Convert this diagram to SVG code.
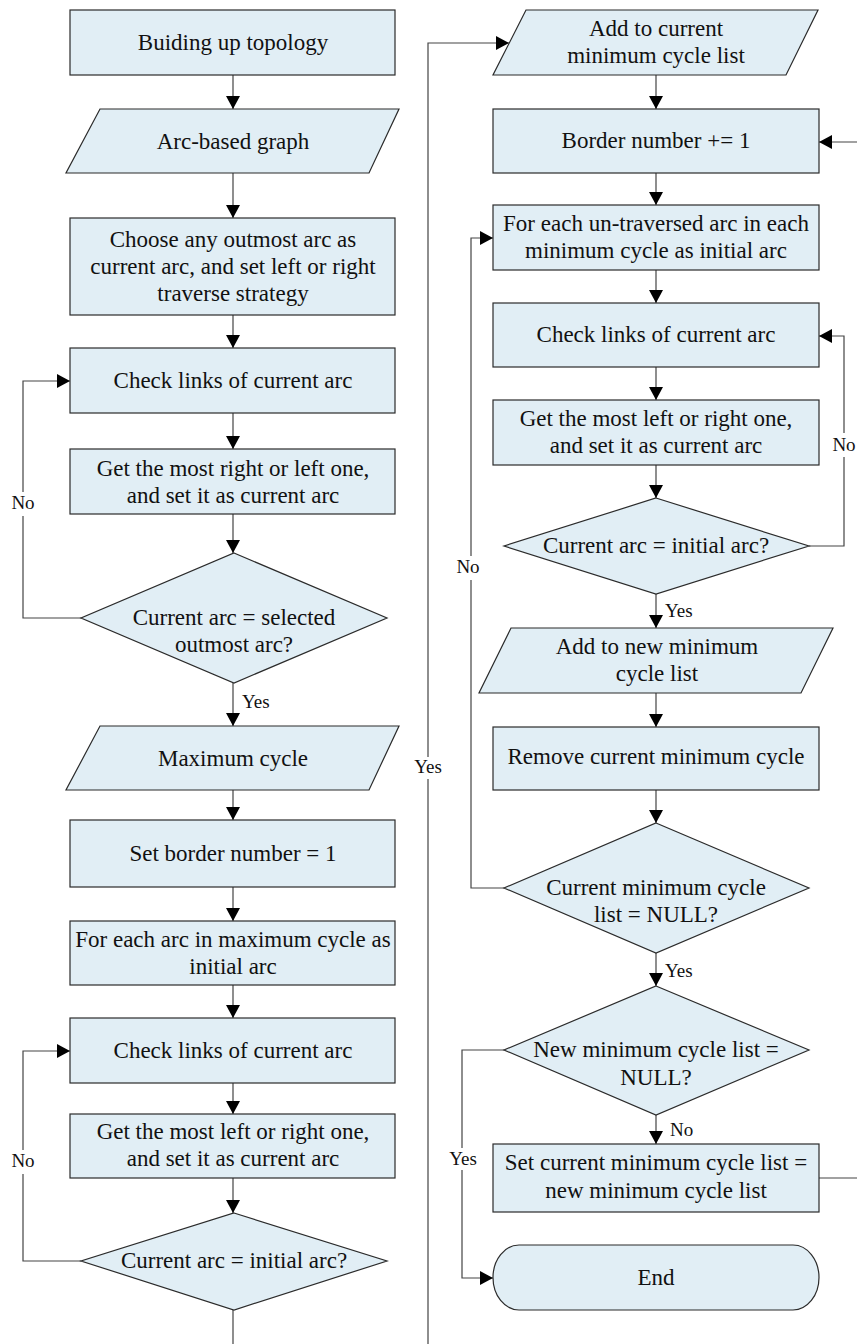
<svg xmlns="http://www.w3.org/2000/svg" width="857" height="1344" viewBox="0 0 857 1344">
<defs>
<style>
.n{fill:#E1EEF5;stroke:#2b2b2b;stroke-width:1.2}
.t{font-size:23px;fill:#111;text-anchor:middle}
.l{font-size:19px;fill:#111}
.c{fill:none;stroke:#444;stroke-width:1.2}
.a{marker-end:url(#ah)}
.bg{fill:#fff}
</style>
<marker id="ah" markerUnits="userSpaceOnUse" markerWidth="13" markerHeight="14" refX="13" refY="7" orient="auto">
<path d="M0,0 L13,7 L0,14 Z" fill="#000"/>
</marker>
</defs>
<rect width="857" height="1344" fill="#fff"/>
<g font-family="Liberation Serif, DejaVu Serif, serif">
<g id="connectors">
<line class="c a" x1="233" y1="75" x2="233" y2="109"/>
<line class="c a" x1="233" y1="173" x2="233" y2="218"/>
<line class="c a" x1="233" y1="315" x2="233" y2="348"/>
<line class="c a" x1="233" y1="413" x2="233" y2="449"/>
<line class="c a" x1="233" y1="514" x2="233" y2="553"/>
<line class="c a" x1="233" y1="683" x2="233" y2="726"/>
<line class="c a" x1="233" y1="790" x2="233" y2="820"/>
<line class="c a" x1="233" y1="887" x2="233" y2="921"/>
<line class="c a" x1="233" y1="985" x2="233" y2="1018"/>
<line class="c a" x1="233" y1="1083" x2="233" y2="1114"/>
<line class="c a" x1="233" y1="1178" x2="233" y2="1213"/>
<line class="c" x1="233" y1="1310" x2="233" y2="1344"/>
<polyline class="c a" points="81,618 23,618 23,381 70,381"/>
<polyline class="c a" points="81,1261 23,1261 23,1051 70,1051"/>
<polyline class="c a" points="428,1344 428,43 509,43"/>
<line class="c a" x1="656" y1="75" x2="656" y2="109"/>
<line class="c a" x1="656" y1="173" x2="656" y2="205"/>
<line class="c a" x1="656" y1="270" x2="656" y2="303"/>
<line class="c a" x1="656" y1="367" x2="656" y2="400"/>
<line class="c a" x1="656" y1="465" x2="656" y2="498"/>
<line class="c a" x1="656" y1="594" x2="656" y2="628"/>
<line class="c a" x1="656" y1="693" x2="656" y2="727"/>
<line class="c a" x1="656" y1="790" x2="656" y2="823"/>
<line class="c a" x1="656" y1="953" x2="656" y2="986"/>
<line class="c a" x1="656" y1="1115" x2="656" y2="1144"/>
<line class="c a" x1="857" y1="142" x2="819" y2="142"/>
<line class="c" x1="819" y1="1178" x2="857" y2="1178"/>
<polyline class="c a" points="809,546 844,546 844,336 819,336"/>
<polyline class="c a" points="504,888 471,888 471,238 493,238"/>
<polyline class="c a" points="504,1050 462,1050 462,1278 493,1278"/>
<rect class="bg" x="10" y="492" width="26" height="24"/>
<text class="l" x="23" y="509" text-anchor="middle">No</text>
<rect class="bg" x="10" y="1150" width="26" height="24"/>
<text class="l" x="23" y="1167" text-anchor="middle">No</text>
<text class="l" x="242" y="708">Yes</text>
<rect class="bg" x="413" y="757" width="31" height="22"/>
<text class="l" x="428" y="773" text-anchor="middle">Yes</text>
<rect class="bg" x="831" y="433" width="26" height="24"/>
<text class="l" x="844" y="451" text-anchor="middle">No</text>
<rect class="bg" x="456" y="556" width="26" height="24"/>
<text class="l" x="468" y="573" text-anchor="middle">No</text>
<text class="l" x="665" y="617">Yes</text>
<text class="l" x="665" y="977">Yes</text>
<text class="l" x="670" y="1136">No</text>
<rect class="bg" x="447" y="1148" width="32" height="22"/>
<text class="l" x="463" y="1165" text-anchor="middle">Yes</text>
</g>

<g id="n1"><rect class="n" x="70" y="10" width="325" height="65"/><text class="t" x="233" y="50">Buiding up topology</text></g>
<g id="n2"><polygon class="n" points="100,109 399,109 369,173 66,173"/><text class="t" x="233" y="149">Arc-based graph</text></g>
<g id="n3"><rect class="n" x="70" y="218" width="325" height="97"/><text class="t" x="233" y="247">Choose any outmost arc as</text><text class="t" x="233" y="274">current arc, and set left or right</text><text class="t" x="233" y="301">traverse strategy</text></g>
<g id="n4"><rect class="n" x="70" y="348" width="325" height="65"/><text class="t" x="233" y="388">Check links of current arc</text></g>
<g id="n5"><rect class="n" x="70" y="449" width="325" height="65"/><text class="t" x="233" y="476">Get the most right or left one,</text><text class="t" x="233" y="503">and set it as current arc</text></g>
<g id="n6"><polygon class="n" points="234,553 387,618 234,683 81,618"/><text class="t" x="234" y="625">Current arc = selected</text><text class="t" x="234" y="652">outmost arc?</text></g>
<g id="n7"><polygon class="n" points="100,726 399,726 369,790 66,790"/><text class="t" x="233" y="766">Maximum cycle</text></g>
<g id="n8"><rect class="n" x="70" y="820" width="325" height="67"/><text class="t" x="233" y="861">Set border number = 1</text></g>
<g id="n9"><rect class="n" x="70" y="921" width="325" height="64"/><text class="t" x="233" y="947">For each arc in maximum cycle as</text><text class="t" x="233" y="974">initial arc</text></g>
<g id="n10"><rect class="n" x="70" y="1018" width="325" height="65"/><text class="t" x="233" y="1058">Check links of current arc</text></g>
<g id="n11"><rect class="n" x="70" y="1114" width="325" height="64"/><text class="t" x="233" y="1139">Get the most left or right one,</text><text class="t" x="233" y="1166">and set it as current arc</text></g>
<g id="n12"><polygon class="n" points="234,1213 387,1261 234,1310 81,1261"/><text class="t" x="234" y="1268">Current arc = initial arc?</text></g>

<g id="r1"><polygon class="n" points="526,10 818,10 786,75 493,75"/><text class="t" x="656" y="36">Add to current</text><text class="t" x="656" y="63">minimum cycle list</text></g>
<g id="r2"><rect class="n" x="493" y="109" width="326" height="64"/><text class="t" x="656" y="148">Border number += 1</text></g>
<g id="r3"><rect class="n" x="493" y="205" width="326" height="65"/><text class="t" x="656" y="231">For each un-traversed arc in each</text><text class="t" x="656" y="258">minimum cycle as initial arc</text></g>
<g id="r4"><rect class="n" x="493" y="303" width="326" height="64"/><text class="t" x="656" y="342">Check links of current arc</text></g>
<g id="r5"><rect class="n" x="493" y="400" width="326" height="65"/><text class="t" x="656" y="426">Get the most left or right one,</text><text class="t" x="656" y="453">and set it as current arc</text></g>
<g id="r6"><polygon class="n" points="656,498 809,546 656,594 504,546"/><text class="t" x="656" y="553">Current arc = initial arc?</text></g>
<g id="r7"><polygon class="n" points="511,628 833,628 801,693 479,693"/><text class="t" x="657" y="654">Add to new minimum</text><text class="t" x="657" y="681">cycle list</text></g>
<g id="r8"><rect class="n" x="493" y="727" width="326" height="63"/><text class="t" x="656" y="764">Remove current minimum cycle</text></g>
<g id="r9"><polygon class="n" points="656,823 809,888 656,953 504,888"/><text class="t" x="656" y="895">Current minimum cycle</text><text class="t" x="656" y="922">list = NULL?</text></g>
<g id="r10"><polygon class="n" points="656,986 809,1050 656,1115 504,1050"/><text class="t" x="656" y="1057">New minimum cycle list =</text><text class="t" x="656" y="1085">NULL?</text></g>
<g id="r11"><rect class="n" x="493" y="1144" width="326" height="68"/><text class="t" x="656" y="1170">Set current minimum cycle list =</text><text class="t" x="656" y="1198">new minimum cycle list</text></g>
<g id="r12"><path class="n" d="M519,1245 H793 A26,32.5 0 0 1 793,1310 H519 A26,32.5 0 0 1 519,1245 Z"/><text class="t" x="656" y="1285">End</text></g>
</g>
</svg>
